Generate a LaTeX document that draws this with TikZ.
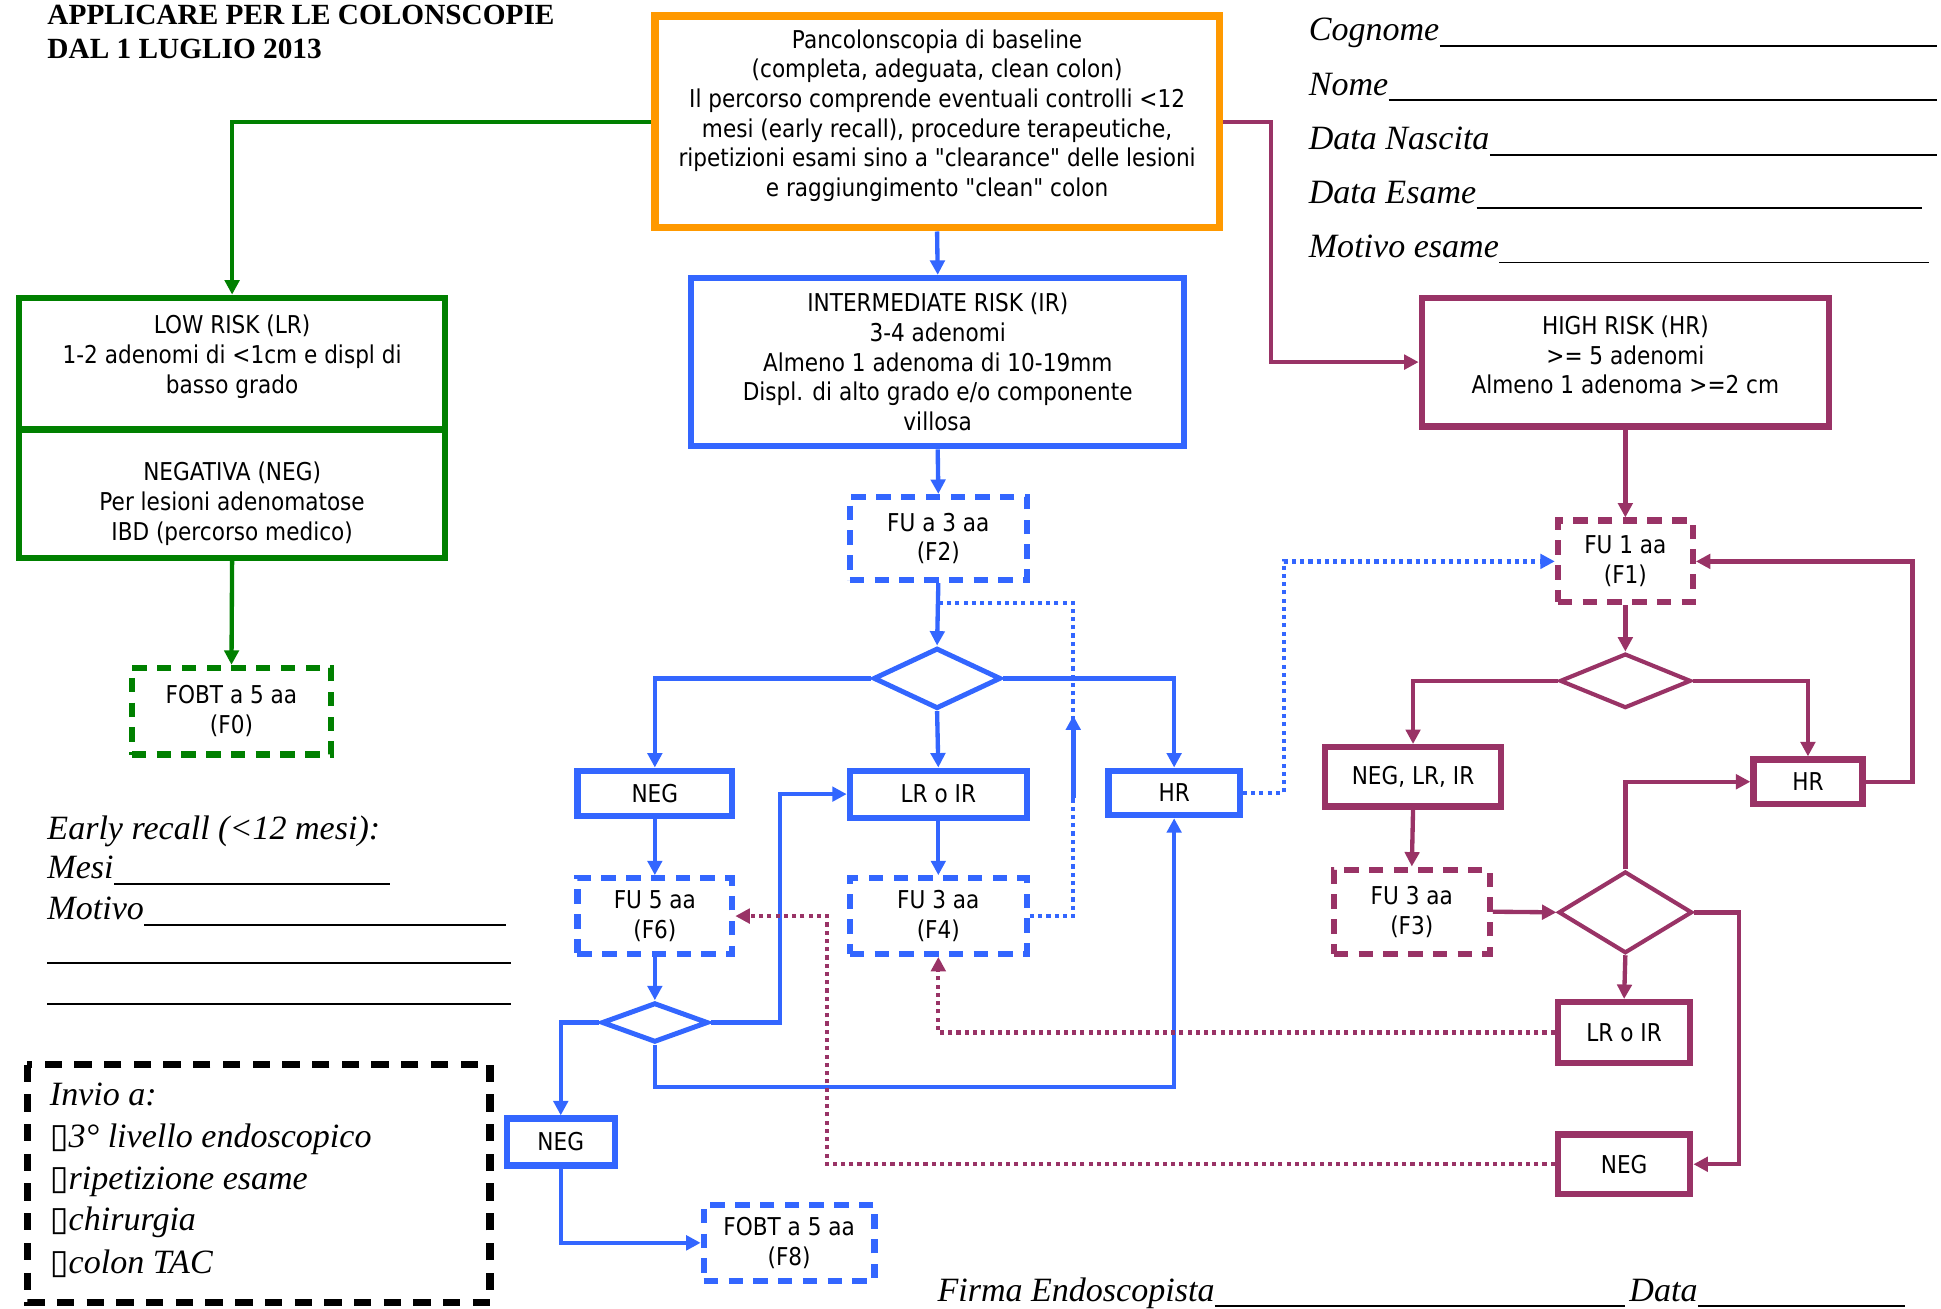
\documentclass[tikz,border=0pt]{standalone}
\usepackage{fontspec}
\setmainfont{Liberation Serif}
\newfontfamily\flowfont[FakeStretch=0.88]{DejaVu Sans}
\newfontfamily\symbfont{DejaVu Sans}
\usetikzlibrary{shapes.geometric,arrows.meta}

\definecolor{baseorange}{RGB}{255,153,0}
\definecolor{lrgreen}{RGB}{0,128,0}
\definecolor{irblue}{RGB}{51,102,255}
\definecolor{hrpurple}{RGB}{153,51,102}

% box text moved up or down inside its frame
\newcommand{\shiftedlines}[2]{\raisebox{#1}[\height][\depth]{\begin{tabular}{@{}c@{}}#2\end{tabular}}}

\tikzset{
  wh/.style 2 args={minimum width=#1*0.6pt, minimum height=#2*0.6pt},
  box/.style={draw, line width=3pt, align=center, inner sep=0pt,
    font=\flowfont\fontsize{11.9}{14.4}\selectfont},
  fubox/.style={box, dash pattern=on 7pt off 5pt},
  choice/.style={diamond, draw, line width=2.4pt, inner sep=0pt},
  link/.style={line width=2.1pt, -{Triangle[length=7pt,width=7pt]}},
  dotlink/.style={line width=2.1pt, dash pattern=on 2pt off 2pt},
  formtext/.style={font=\itshape\fontsize{16.5}{20}\selectfont, inner sep=0pt},
  formline/.style={line width=0.9pt},
}

\begin{document}
\begin{tikzpicture}[x=0.6pt,y=-0.6pt]
  \useasboundingbox (0,0) rectangle (1568,1057);

  % heading and patient data
  \node[anchor=base west, inner sep=0pt, font=\bfseries\fontsize{14.2}{16}\selectfont] (title1) at (38,20) {APPLICARE PER LE COLONSCOPIE};
  \node[anchor=base west, inner sep=0pt, font=\bfseries\fontsize{14.2}{16}\selectfont] (title2) at (38,47) {DAL 1 LUGLIO 2013};

  \foreach \lbl/\yy/\xend [count=\i] in {Cognome/33/1565, Nome/77/1565, Data Nascita/121/1565, Data Esame/164/1553, Motivo esame/208/1558} {
    \node[formtext, anchor=base west] (field\i) at (1057,\yy) {\lbl};
    \draw[formline] (field\i.base east) ++(0,4) -- (\xend,\yy+4);
  }

  % baseline exam
  \node[box, draw=baseorange, line width=3.6pt, wh={456}{171}] (base) at (757,98.5) {\shiftedlines{2.7pt}{Pancolonscopia di baseline\\(completa, adeguata, clean colon)\\Il percorso comprende eventuali controlli <12\\mesi (early recall), procedure terapeutiche,\\ripetizioni esami sino a "clearance" delle lesioni\\e raggiungimento "clean" colon}};

  % low risk branch
  \node[box, draw=lrgreen, wh={344}{106.5}] (lowrisk) at (187.5,293.75) {\shiftedlines{3pt}{LOW RISK (LR)\\1-2 adenomi di <1cm e displ di\\basso grado}};
  \node[box, draw=lrgreen, wh={344}{103.5}] (negativa) at (187.5,398.75) {\shiftedlines{-5.4pt}{NEGATIVA (NEG)\\Per lesioni adenomatose\\IBD (percorso medico)}};
  \node[fubox, draw=lrgreen, wh={161}{70}] (f0) at (187,574.5) {FOBT a 5 aa\\(F0)};

  \draw[link, lrgreen] (base.west) -| (lowrisk.north);
  \draw[link, lrgreen] (negativa.south) -- (f0.north);

  % intermediate risk branch
  \node[box, draw=irblue, wh={398}{136}] (ir) at (757.5,292.5) {INTERMEDIATE RISK (IR)\\3-4 adenomi\\Almeno 1 adenoma di 10-19mm\\Displ. di alto grado e/o componente\\villosa};
  \node[fubox, draw=irblue, wh={143}{67}] (f2) at (758,435) {FU a 3 aa\\(F2)};
  \node[choice, draw=irblue, wh={103}{49}] (d1) at (757,548) {};
  \node[box, draw=irblue, wh={125}{37}] (nega) at (529,641) {NEG};
  \node[box, draw=irblue, wh={143}{38}] (lrir) at (758,641.5) {LR o IR};
  \node[box, draw=irblue, wh={106}{36}] (hrb) at (948.5,640.5) {HR};
  \node[fubox, draw=irblue, wh={125}{61}] (f6) at (529,740) {FU 5 aa\\(F6)};
  \node[fubox, draw=irblue, wh={143}{61}] (f4) at (758,740) {FU 3 aa\\(F4)};
  \node[choice, draw=irblue, wh={86}{32}] (d2) at (529,826) {};
  \node[box, draw=irblue, wh={87}{38}] (negb) at (453,922.5) {NEG};
  \node[fubox, draw=irblue, wh={138}{61}] (f8) at (637.5,1004) {FOBT a 5 aa\\(F8)};

  \coordinate (looptop) at (867,487);
  \coordinate (upstart) at (867,645);
  \coordinate (upend) at (867,578);
  \coordinate (hrturn) at (1037,640.5);
  \coordinate (d2turn) at (630,826);
  \coordinate (d2low) at (529,878);

  \draw[link, irblue] (base.south) -- (ir.north);
  \draw[link, irblue] (ir.south) -- (f2.north);
  \draw[link, irblue] (f2.south) -- (d1.north);
  \draw[link, irblue] (d1.west) -| (nega.north);
  \draw[link, irblue] (d1.south) -- (lrir.north);
  \draw[link, irblue] (d1.east) -| (hrb.north);
  \draw[link, irblue] (nega.south) -- (f6.north);
  \draw[link, irblue] (lrir.south) -- (f4.north);
  \draw[dotlink, irblue] (f4.east) -| (looptop) -- (f2.south |- looptop);
  \draw[link, irblue, line width=2.6pt] (upstart) -- (upend);
  \draw[link, irblue] (f6.south) -- (d2.north);
  \draw[link, irblue] (d2.west) -| (negb.north);
  \draw[link, irblue] (d2.east) -- (d2turn) |- (lrir.west);
  \draw[link, irblue] (d2.south) -- (d2low) -| (hrb.south);
  \draw[link, irblue] (negb.south) |- (f8.west);

  % high risk branch
  \node[box, draw=hrpurple, wh={329}{104}] (hrbig) at (1313,292.5) {\shiftedlines{1.9pt}{HIGH RISK (HR)\\>= 5 adenomi\\Almeno 1 adenoma >=2 cm}};
  \node[fubox, draw=hrpurple, wh={109}{66}] (f1) at (1313,453.5) {FU 1 aa\\(F1)};
  \node[choice, draw=hrpurple, line width=2pt, wh={106}{44}] (d3) at (1313,550) {};
  \node[box, draw=hrpurple, wh={142}{48}] (nlr) at (1141.5,627.5) {NEG, LR, IR};
  \node[box, draw=hrpurple, wh={88}{36}] (hrp) at (1460.5,631.5) {HR};
  \node[fubox, draw=hrpurple, wh={126}{68}] (f3) at (1140.5,736.5) {FU 3 aa\\(F3)};
  \node[choice, draw=hrpurple, line width=2pt, wh={108}{66}] (d4) at (1313,737) {};
  \node[box, draw=hrpurple, wh={107}{49}] (lrirp) at (1312,834) {LR o IR};
  \node[box, draw=hrpurple, wh={107}{48}] (negp) at (1312,940.5) {NEG};

  \coordinate (baseturn) at (1027,98.5);
  \coordinate (hrpturn) at (1545,631.5);
  \coordinate (d4turn) at (1405,737);
  \coordinate (negturn) at (668,940.5);

  \draw[dotlink, irblue, -{Triangle[length=7pt,width=7pt]}] (hrb.east) -- (hrturn) |- (f1.west);
  \draw[link, hrpurple] (base.east) -- (baseturn) |- (hrbig.west);
  \draw[link, hrpurple] (hrbig.south) -- (f1.north);
  \draw[link, hrpurple] (f1.south) -- (d3.north);
  \draw[link, hrpurple] (d3.west) -| (nlr.north);
  \draw[link, hrpurple] (d3.east) -| (hrp.north);
  \draw[link, hrpurple] (hrp.east) -- (hrpturn) |- (f1.east);
  \draw[link, hrpurple] (nlr.south) -- (f3.north);
  \draw[link, hrpurple] (f3.east) -- (d4.west);
  \draw[link, hrpurple] (d4.north) |- (hrp.west);
  \draw[link, hrpurple] (d4.east) -- (d4turn) |- (negp.east);
  \draw[link, hrpurple] (d4.south) -- (lrirp.north);
  \draw[dotlink, hrpurple, -{Triangle[length=7pt,width=7pt]}] (lrirp.west) -| (f4.south);
  \draw[dotlink, hrpurple, -{Triangle[length=7pt,width=7pt]}] (negp.west) -- (negturn) |- (f6.east);

  % early recall
  \node[formtext, anchor=base west] (early) at (38,678) {Early recall (<12 mesi):};
  \node[formtext, anchor=base west] (mesi) at (38,710) {Mesi};
  \draw[formline] (mesi.base east) ++(0,4) -- (315,714);
  \node[formtext, anchor=base west] (motivo) at (38,743) {Motivo};
  \draw[formline] (motivo.base east) ++(0,4) -- (409,747);
  \draw[formline] (38,778) -- (413,778);
  \draw[formline] (38,811) -- (413,811);

  % referral box
  \draw[line width=3.6pt, dash pattern=on 8.4pt off 6pt] (22,860) rectangle (396,1052);
  \node[formtext, anchor=base west] (invio) at (40,893) {Invio a:};
  \foreach \choicetext/\yy [count=\i] in {3° livello endoscopico/927, ripetizione esame/961, chirurgia/994, colon TAC/1029}
    \node[formtext, anchor=base west] (invio\i) at (40,\yy) {{\symbfont\fontsize{16.5}{18}\selectfont ▯}\choicetext};

  % signature
  \node[formtext, anchor=base west] (firma) at (757,1051) {Firma Endoscopista};
  \draw[formline] (firma.base east) ++(0,4) -- (1313,1055);
  \node[formtext, anchor=base west] (data) at (1316,1051) {Data};
  \draw[formline] (data.base east) ++(0,4) -- (1539,1055);
\end{tikzpicture}
\end{document}
